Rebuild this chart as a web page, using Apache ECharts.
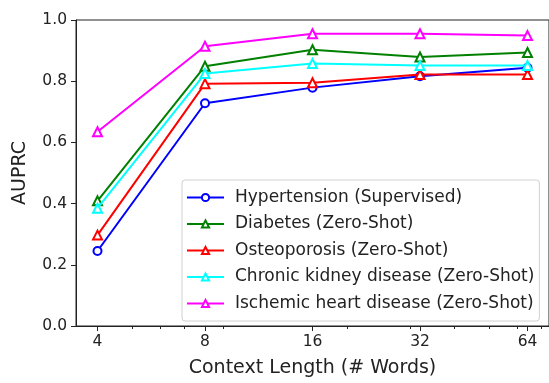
<!DOCTYPE html>
<html>
<head>
<meta charset="utf-8">
<script src="https://cdn.jsdelivr.net/npm/echarts@6/dist/echarts.min.js"></script>
<style>html,body{margin:0;padding:0;background:#fff}#c{width:549px;height:383px}</style>
</head>
<body>
<div id="c"></div>
<script>
const contextLengths = [4, 8, 16, 32, 64];
const minorTickValues = [5, 6, 7, 9, 20, 30, 40, 50, 60, 70];
const yTicks = [0.0, 0.2, 0.4, 0.6, 0.8, 1.0];
const hypertension = [0.245, 0.728, 0.779, 0.816, 0.844];
const diabetes = [0.409, 0.849, 0.903, 0.879, 0.894];
const osteoporosis = [0.297, 0.792, 0.795, 0.822, 0.822];
const ckd = [0.385, 0.825, 0.858, 0.851, 0.851];
const ihd = [0.635, 0.914, 0.955, 0.955, 0.949];
const seriesNames = ['Hypertension (Supervised)', 'Diabetes (Zero-Shot)', 'Osteoporosis (Zero-Shot)', 'Chronic kidney disease (Zero-Shot)', 'Ischemic heart disease (Zero-Shot)'];
const seriesValues = [hypertension, diabetes, osteoporosis, ckd, ihd];
const seriesColors = ['#0000ff', '#008000', '#ff0000', '#00ffff', '#ff00ff'];
const seriesSymbols = ['emptyCircle', 'emptyTriangle', 'emptyTriangle', 'emptyTriangle', 'emptyTriangle'];

const FONT = 'DejaVu Sans';
const xMin = Math.pow(2, 1.8), xMax = Math.pow(2, 6.2);

const chart = echarts.init(document.getElementById('c'), null, {renderer: 'canvas'});
chart.setOption({
  animation: false,
  backgroundColor: '#fff',
  textStyle: {fontFamily: FONT},
  grid: {left: 76, top: 20, right: -2, bottom: 54, show: true, borderColor: '#222', borderWidth: 1, backgroundColor: 'transparent'},
  legend: {
    orient: 'vertical', left: 182, top: 180,
    backgroundColor: '#fff', borderColor: '#d0d0d0', borderWidth: 1, borderRadius: 3,
    padding: [9, 5, 9, 4],
    itemWidth: 37, itemHeight: 9, itemGap: 9.5,
    textStyle: {fontFamily: FONT, fontSize: 17, color: '#222', padding: [0, 0, 0, 6]},
    data: seriesNames
  },
  xAxis: [{
    type: 'log', logBase: 2, min: xMin, max: xMax,
    name: 'Context Length (# Words)', nameLocation: 'middle', nameGap: 33,
    nameTextStyle: {fontFamily: FONT, fontSize: 19, color: '#222'},
    axisLine: {show: true, lineStyle: {color: '#222', width: 1}},
    axisTick: {show: true, length: 5, lineStyle: {color: '#222'}, customValues: contextLengths},
    axisLabel: {fontFamily: FONT, fontSize: 15.5, color: '#222', margin: 8, customValues: contextLengths, formatter: v => String(Math.round(v))},
    splitLine: {show: false}, minorTick: {show: false}
  }, {
    type: 'log', logBase: 2, min: xMin, max: xMax, position: 'bottom',
    axisLine: {show: false},
    axisTick: {show: true, length: 3, lineStyle: {color: '#222'}, customValues: minorTickValues},
    axisLabel: {show: false},
    splitLine: {show: false}
  }],
  yAxis: {
    type: 'value', min: 0, max: 1, interval: 0.2,
    name: 'AUPRC', nameLocation: 'middle', nameGap: 46,
    nameTextStyle: {fontFamily: FONT, fontSize: 19, color: '#222'},
    axisLine: {show: true, lineStyle: {color: '#222', width: 1}},
    axisTick: {show: true, length: 5, lineStyle: {color: '#222'}},
    axisLabel: {fontFamily: FONT, fontSize: 15.5, color: '#222', margin: 9, formatter: v => v.toFixed(1)},
    splitLine: {show: false}
  },
  series: seriesNames.map((name, i) => ({
    name: name, type: 'line', xAxisIndex: 0,
    data: contextLengths.map((c, j) => [c, seriesValues[i][j]]),
    symbol: seriesSymbols[i], symbolSize: i === 0 ? 8 : 9,
    showAllSymbol: true,
    lineStyle: {color: seriesColors[i], width: 2},
    itemStyle: {color: seriesColors[i], borderColor: seriesColors[i], borderWidth: 1.5},
    z: 2 + i
  }))
});
</script>
</body>
</html>
